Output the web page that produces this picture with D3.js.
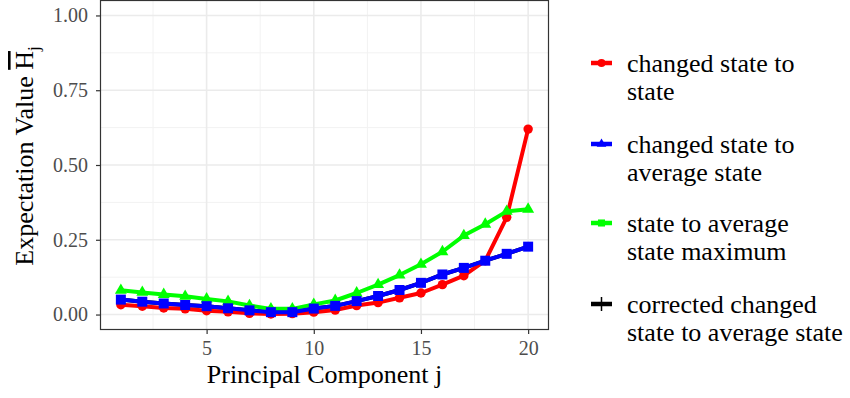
<!DOCTYPE html>
<html>
<head>
<meta charset="utf-8">
<script src="https://cdn.jsdelivr.net/npm/d3@7"></script>
<style>
  body { margin: 0; background: #fff; }
  text { font-family: "Liberation Serif", "DejaVu Serif", serif; }
</style>
</head>
<body>
<div id="chart"></div>
<script>
// principal component index
const components = d3.range(1, 21);

// expectation values
const changedToState = [0.033, 0.028, 0.022, 0.019, 0.013, 0.009, 0.004, 0.002, 0.003, 0.008,
  0.015, 0.030, 0.040, 0.056, 0.072, 0.100, 0.130, 0.180, 0.325, 0.620];
const changedToAverage = [0.050, 0.043, 0.037, 0.032, 0.028, 0.021, 0.014, 0.008, 0.008, 0.020,
  0.029, 0.045, 0.062, 0.082, 0.106, 0.134, 0.156, 0.180, 0.203, 0.227];
const stateToAverageMax = [0.081, 0.074, 0.067, 0.061, 0.052, 0.044, 0.030, 0.019, 0.019, 0.034,
  0.047, 0.072, 0.100, 0.132, 0.168, 0.210, 0.264, 0.302, 0.345, 0.352];
// the corrected series sits under the blue one and is not visible
const correctedChangedToAverage = changedToAverage.slice();

const xTicks = [5, 10, 15, 20];
const xMinor = [2.5, 7.5, 12.5, 17.5];
const yTicks = [0, 0.25, 0.5, 0.75, 1];
const yMinor = [0.125, 0.375, 0.625, 0.875];

const legendLabels = [
  ['changed state to', 'state'],
  ['changed state to', 'average state'],
  ['state to average', 'state maximum'],
  ['corrected changed', 'state to average state']
];

const serif = '"Liberation Serif", "Times New Roman", serif';
const width = 850;
const height = 398;
const panel = { left: 100.5, right: 548.5, top: 0.5, bottom: 329.5 };

const svg = d3.select('#chart')
  .append('svg')
  .attr('width', width)
  .attr('height', height)
  .style('font-family', serif);

const x = d3.scaleLinear().domain([0.05, 20.95]).range([panel.left, panel.right]);
const y = d3.scaleLinear().domain([-0.05, 1.05]).range([panel.bottom, panel.top]);

// grid
const grid = svg.append('g');
grid.selectAll('.xminor').data(xMinor).enter().append('line')
  .attr('x1', d => x(d)).attr('x2', d => x(d))
  .attr('y1', panel.top).attr('y2', panel.bottom)
  .attr('stroke', '#f2f2f2').attr('stroke-width', 1);
grid.selectAll('.yminor').data(yMinor).enter().append('line')
  .attr('y1', d => y(d)).attr('y2', d => y(d))
  .attr('x1', panel.left).attr('x2', panel.right)
  .attr('stroke', '#f2f2f2').attr('stroke-width', 1);
grid.selectAll('.xmajor').data(xTicks).enter().append('line')
  .attr('x1', d => x(d)).attr('x2', d => x(d))
  .attr('y1', panel.top).attr('y2', panel.bottom)
  .attr('stroke', '#ebebeb').attr('stroke-width', 1.6);
grid.selectAll('.ymajor').data(yTicks).enter().append('line')
  .attr('y1', d => y(d)).attr('y2', d => y(d))
  .attr('x1', panel.left).attr('x2', panel.right)
  .attr('stroke', '#ebebeb').attr('stroke-width', 1.6);

// series
const series = [
  { values: correctedChangedToAverage, color: '#000000', shape: 'plus' },
  { values: changedToState, color: '#ff0000', shape: d3.symbolCircle, size: 70 },
  { values: stateToAverageMax, color: '#00ff00', shape: d3.symbolTriangle, size: 62 },
  { values: changedToAverage, color: '#0000ff', shape: d3.symbolSquare, size: 100 }
];

const line = d3.line()
  .x((d, i) => x(components[i]))
  .y(d => y(d));

series.forEach(s => {
  svg.append('path')
    .datum(s.values)
    .attr('d', line)
    .attr('fill', 'none')
    .attr('stroke', s.color)
    .attr('stroke-width', 4)
    .attr('stroke-linejoin', 'round');
  if (s.shape === 'plus') return;
  svg.append('g').selectAll('path')
    .data(s.values)
    .enter().append('path')
    .attr('transform', (d, i) => `translate(${x(components[i])},${y(d)})`)
    .attr('d', d3.symbol().type(s.shape).size(s.size))
    .attr('fill', s.color);
});

// panel border
svg.append('rect')
  .attr('x', panel.left).attr('y', panel.top)
  .attr('width', panel.right - panel.left)
  .attr('height', panel.bottom - panel.top)
  .attr('fill', 'none')
  .attr('stroke', '#333333')
  .attr('stroke-width', 1.2);

// axes
const xAxis = svg.append('g')
  .attr('transform', `translate(0,${panel.bottom})`)
  .call(d3.axisBottom(x).tickValues(xTicks).tickSize(4.5).tickPadding(7));
const yAxis = svg.append('g')
  .attr('transform', `translate(${panel.left},0)`)
  .call(d3.axisLeft(y).tickValues(yTicks).tickFormat(d3.format('.2f')).tickSize(4.5).tickPadding(8));
[xAxis, yAxis].forEach(a => {
  a.attr('font-family', serif);
  a.select('.domain').remove();
  a.selectAll('line').attr('stroke', '#333333').attr('stroke-width', 1.2);
  a.selectAll('text')
    .attr('fill', '#4d4d4d')
    .style('font-size', '20px')
    .style('font-family', serif);
});

// axis titles
svg.append('text')
  .attr('x', (panel.left + panel.right) / 2)
  .attr('y', 383)
  .attr('text-anchor', 'middle')
  .style('font-family', serif)
  .style('font-size', '26px')
  .text('Principal Component j');

const yTitle = svg.append('text')
  .attr('transform', 'translate(33,156) rotate(-90)')
  .attr('text-anchor', 'middle')
  .style('font-family', serif)
  .style('font-size', '26px');
yTitle.append('tspan').text('Expectation Value ');
yTitle.append('tspan').text('H').style('text-decoration', 'overline');
yTitle.append('tspan').text('j').attr('dy', 6).style('font-size', '17px');

// legend
const legendX = 591;
const legendY = [63, 144, 223, 304];
const legendKeys = [
  { color: '#ff0000', shape: d3.symbolCircle, size: 50 },
  { color: '#0000ff', shape: d3.symbolTriangle, size: 40 },
  { color: '#00ff00', shape: d3.symbolSquare, size: 50 },
  { color: '#000000', shape: 'plus' }
];

const legend = svg.append('g');
legendKeys.forEach((k, i) => {
  const g = legend.append('g').attr('transform', `translate(${legendX},${legendY[i]})`);
  g.append('line')
    .attr('x1', 0).attr('x2', 21)
    .attr('stroke', k.color).attr('stroke-width', 4.5);
  if (k.shape === 'plus') {
    g.append('line').attr('x1', 10.5).attr('x2', 10.5).attr('y1', -7).attr('y2', 7)
      .attr('stroke', k.color).attr('stroke-width', 1.5);
  } else {
    g.append('path')
      .attr('transform', 'translate(10.5,0)')
      .attr('d', d3.symbol().type(k.shape).size(k.size))
      .attr('fill', k.color);
  }
  legendLabels[i].forEach((t, j) => {
    g.append('text')
      .attr('x', 36)
      .attr('y', 8.7 + j * 28.3)
      .style('font-family', serif)
      .style('font-size', '26px')
      .text(t);
  });
});
</script>
</body>
</html>
